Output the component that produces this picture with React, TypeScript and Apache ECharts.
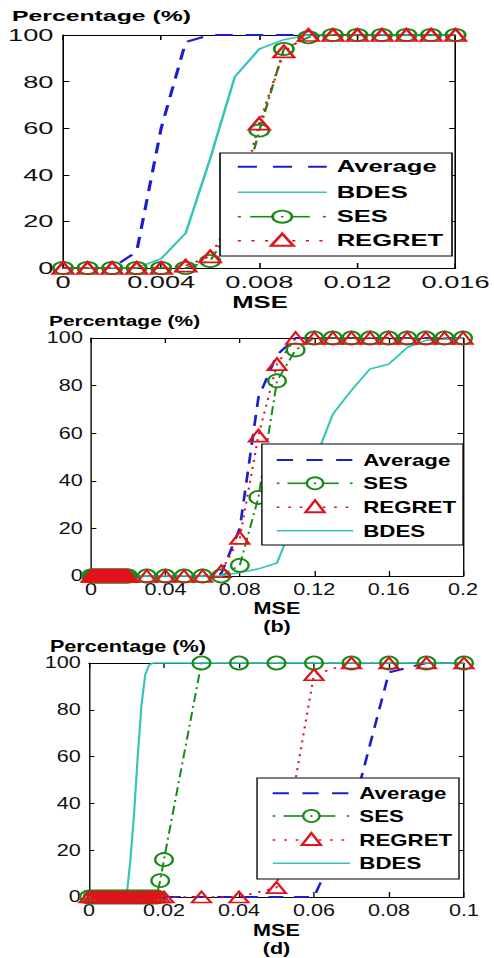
import React, { useEffect, useRef } from "react";
import * as echarts from "echarts";

const FONT = '"Liberation Sans", Arial, Helvetica, sans-serif';

// ---------- data ----------
// Panel (top)
const P1_MSE = [0, 0.001, 0.002, 0.003, 0.004, 0.005, 0.006, 0.007, 0.008, 0.009, 0.01, 0.011, 0.012, 0.013, 0.014, 0.015, 0.016];
const P1_AVERAGE = [0, 0, 0, 7, 60, 97, 100, 100, 100, 100, 100, 100, 100, 100, 100, 100, 100];
const P1_BDES = [0, 0, 0, 0, 4, 15, 47, 82, 94, 98, 100, 100, 100, 100, 100, 100, 100];
const P1_SES = [0, 0, 0, 0, 0, 0, 3, 20, 59, 94, 99, 100, 100, 100, 100, 100, 100];
const P1_REGRET = [0, 0, 0, 0, 0, 1, 5, 23, 62, 93, 100, 100, 100, 100, 100, 100, 100];
const P1_X_TICKS = { min: 0, max: 0.016, interval: 0.004 };

// Panel (b)
const P2_LINE_MSE = [0, 0.01, 0.02, 0.03, 0.04, 0.05, 0.06, 0.07, 0.08, 0.09, 0.1, 0.11, 0.12, 0.13, 0.14, 0.15, 0.16, 0.17, 0.18, 0.19, 0.2];
const P2_AVERAGE = [0, 0, 0, 0, 0, 0, 0, 1, 20, 75, 93, 100, 100, 100, 100, 100, 100, 100, 100, 100, 100];
const P2_BDES = [0, 0, 0, 0, 0, 0, 0, 0, 1.5, 3, 5.5, 25, 48, 68, 78, 87, 89, 96, 99, 99.5, 100];
const P2_MARK_MSE = [
  0, 0.001, 0.002, 0.003, 0.004, 0.005, 0.006, 0.007, 0.008, 0.009, 0.01,
  0.011, 0.012, 0.013, 0.014, 0.015, 0.016, 0.017, 0.018, 0.019, 0.02,
  0.03, 0.04, 0.05, 0.06, 0.07, 0.08, 0.09, 0.1, 0.11, 0.12, 0.13, 0.14, 0.15, 0.16, 0.17, 0.18, 0.19, 0.2,
];
const P2_SES = [
  0, 0, 0, 0, 0, 0, 0, 0, 0, 0, 0, 0, 0, 0, 0, 0, 0, 0, 0, 0, 0,
  0, 0, 0, 0, 0, 4.5, 33, 82, 95, 100, 100, 100, 100, 100, 100, 100, 100, 100,
];
const P2_REGRET = [
  0, 0, 0, 0, 0, 0, 0, 0, 0, 0, 0, 0, 0, 0, 0, 0, 0, 0, 0, 0, 0,
  0, 0, 0, 0, 2, 16, 59, 89, 100, 100, 100, 100, 100, 100, 100, 100, 100, 100,
];
const P2_X_TICKS = { min: 0, max: 0.2, interval: 0.04 };

// Panel (d)
const P3_LINE_MSE = [0, 0.01, 0.02, 0.03, 0.04, 0.05, 0.06, 0.07, 0.08, 0.09, 0.1];
const P3_AVERAGE = [0, 0, 0, 0, 0, 0, 0, 35, 96, 100, 100];
const P3_BDES_MSE = [0, 0.01, 0.011, 0.012, 0.013, 0.014, 0.015, 0.016, 0.017, 0.02, 0.03, 0.04, 0.05, 0.06, 0.07, 0.08, 0.09, 0.1];
const P3_BDES = [0, 0, 15, 35, 60, 82, 95, 99, 100, 100, 100, 100, 100, 100, 100, 100, 100, 100];
const P3_MARK_MSE = [
  0, 0.001, 0.002, 0.003, 0.004, 0.005, 0.006, 0.007, 0.008, 0.009, 0.01,
  0.011, 0.012, 0.013, 0.014, 0.015, 0.016, 0.017, 0.018, 0.019, 0.02,
  0.03, 0.04, 0.05, 0.06, 0.07, 0.08, 0.09, 0.1,
];
const P3_SES = [
  0, 0, 0, 0, 0, 0, 0, 0, 0, 0, 0, 0, 0, 0, 0, 0, 0, 0, 0, 7, 16,
  100, 100, 100, 100, 100, 100, 100, 100,
];
const P3_REGRET = [
  0, 0, 0, 0, 0, 0, 0, 0, 0, 0, 0, 0, 0, 0, 0, 0, 0, 0, 0, 0, 0,
  0, 0, 4, 95, 100, 100, 100, 100,
];
const P3_X_TICKS = { min: 0, max: 0.1, interval: 0.02 };

const Y_TICKS = { min: 0, max: 100, interval: 20 };

// ---------- styles ----------
const COLORS: Record<string, string> = {
  Average: "#1c1cd2",
  BDES: "#34c4ba",
  SES: "#178a17",
  REGRET: "#e2121c",
};

const pairs = (xs: number[], ys: number[]) => xs.map((x, i) => [x, ys[i]]);

function seriesFor(name: string, xs: number[], ys: number[], triSize: number[], circSize: number) {
  const base: any = {
    name,
    type: "line",
    data: pairs(xs, ys),
    clip: false,
    silent: true,
    xAxisIndex: 0,
    yAxisIndex: 0,
  };
  if (name === "Average") {
    return { ...base, symbol: "none", lineStyle: { color: COLORS.Average, width: 2, type: [11, 8] } };
  }
  if (name === "BDES") {
    return { ...base, symbol: "none", lineStyle: { color: COLORS.BDES, width: 1.6, type: "solid" } };
  }
  if (name === "SES") {
    return {
      ...base,
      symbol: "circle",
      symbolSize: circSize,
      showSymbol: true,
      lineStyle: { color: COLORS.SES, width: 1.5, type: [9, 4, 2, 4] },
      itemStyle: { color: "rgba(0,0,0,0)", borderColor: COLORS.SES, borderWidth: 1.8 },
    };
  }
  return {
    ...base,
    symbol: "triangle",
    symbolSize: triSize,
    showSymbol: true,
    lineStyle: { color: COLORS.REGRET, width: 1.6, type: [2, 5] },
    itemStyle: { color: "rgba(0,0,0,0)", borderColor: COLORS.REGRET, borderWidth: 1.8 },
  };
}

function legendElements(lg: any) {
  const els: any[] = [];
  els.push({
    type: "rect",
    z: 100,
    silent: true,
    shape: { x: lg.x, y: lg.y, width: lg.w, height: lg.h },
    style: { fill: "#fff", stroke: "#000", lineWidth: 1 },
  });
  lg.order.forEach((name: string, i: number) => {
    const cy = lg.rows[i];
    const x1 = lg.x1;
    const x2 = lg.x2;
    const L = x2 - x1;
    const cx = (x1 + x2) / 2;
    const c = COLORS[name];
    if (name === "Average") {
      els.push({ type: "line", z: 101, silent: true, shape: { x1, y1: cy, x2, y2: cy }, style: { stroke: c, lineWidth: 2, lineDash: [12, 10] } });
    } else if (name === "BDES") {
      els.push({ type: "line", z: 101, silent: true, shape: { x1, y1: cy, x2, y2: cy }, style: { stroke: c, lineWidth: 1.6 } });
    } else if (name === "SES") {
      const r = 6;
      els.push({ type: "line", z: 101, silent: true, shape: { x1, y1: cy, x2: x1 + 2, y2: cy }, style: { stroke: c, lineWidth: 1.6 } });
      els.push({ type: "line", z: 101, silent: true, shape: { x1: x1 + 0.14 * L, y1: cy, x2: cx - r, y2: cy }, style: { stroke: c, lineWidth: 1.6 } });
      els.push({ type: "line", z: 101, silent: true, shape: { x1: cx + r, y1: cy, x2: x2 - 0.19 * L, y2: cy }, style: { stroke: c, lineWidth: 1.6 } });
      els.push({ type: "line", z: 101, silent: true, shape: { x1: x2 - 2.5, y1: cy, x2: x2 - 0.5, y2: cy }, style: { stroke: c, lineWidth: 1.6 } });
      els.push({ type: "circle", z: 102, silent: true, shape: { cx, cy, r }, style: { fill: "none", stroke: c, lineWidth: 1.8 } });
      els.push({ type: "circle", z: 102, silent: true, shape: { cx, cy, r: 0.9 }, style: { fill: c } });
    } else {
      els.push({ type: "line", z: 101, silent: true, shape: { x1, y1: cy, x2, y2: cy }, style: { stroke: c, lineWidth: 1.6, lineDash: [2, 6.5] } });
      els.push({
        type: "polygon",
        z: 102,
        silent: true,
        shape: { points: [[cx - 7, cy + 5], [cx + 7, cy + 5], [cx, cy - 7]] },
        style: { fill: "#fff", stroke: c, lineWidth: 2 },
      });
    }
    els.push({
      type: "text",
      z: 102,
      silent: true,
      style: {
        text: name,
        x: lg.textX,
        y: cy,
        fill: "#000",
        fontSize: lg.fontSize,
        fontWeight: "bold",
        fontFamily: FONT,
        align: "left",
        verticalAlign: "middle",
        textAlign: "left",
        textVerticalAlign: "middle",
      },
    });
  });
  return els;
}

function textEl(text: string, x: number, y: number, size: number, align: string) {
  return {
    type: "text",
    z: 50,
    silent: true,
    style: {
      text,
      x,
      y,
      fill: "#000",
      fontSize: size,
      fontWeight: "bold",
      fontFamily: FONT,
      align,
      verticalAlign: "middle",
      textAlign: align,
      textVerticalAlign: "middle",
    },
  };
}

function axisCommon(labelSize: number) {
  return {
    type: "value",
    axisLine: { show: true, onZero: false, lineStyle: { color: "#000", width: 1 } },
    splitLine: { show: false },
    axisLabel: { fontSize: labelSize, fontFamily: FONT, color: "#111", margin: 6 },
  };
}

function buildOption(p: any) {
  const xTicks = p.xTicks;
  const xAxis = [
    {
      ...axisCommon(p.labelSize),
      position: "bottom",
      min: xTicks.min,
      max: xTicks.max,
      interval: xTicks.interval,
      axisTick: { show: true, inside: true, length: 5, lineStyle: { color: "#000" } },
    },
    {
      ...axisCommon(p.labelSize),
      position: "top",
      min: xTicks.min,
      max: xTicks.max,
      interval: xTicks.interval,
      axisLabel: { show: false },
      axisTick: { show: true, inside: true, length: 5, lineStyle: { color: "#000" } },
    },
  ];
  const yAxis = [
    {
      ...axisCommon(p.labelSize),
      position: "left",
      min: Y_TICKS.min,
      max: Y_TICKS.max,
      interval: Y_TICKS.interval,
      axisTick: { show: true, inside: true, length: 4, lineStyle: { color: "#000" } },
    },
    {
      ...axisCommon(p.labelSize),
      position: "right",
      min: Y_TICKS.min,
      max: Y_TICKS.max,
      interval: Y_TICKS.interval,
      axisLabel: { show: false },
      axisTick: { show: true, inside: true, length: 4, lineStyle: { color: "#000" } },
    },
  ];
  const graphics: any[] = [
    textEl("Percentage (%)", p.title.x, p.title.y, p.title.size, "left"),
    textEl("MSE", p.xName.x, p.xName.y, p.xName.size, "center"),
  ];
  if (p.caption) graphics.push(textEl(p.caption.text, p.caption.x, p.caption.y, p.caption.size, "center"));
  graphics.push(...legendElements(p.legend));
  return {
    animation: false,
    backgroundColor: "#fff",
    textStyle: { fontFamily: FONT },
    grid: { left: p.grid.left, top: p.grid.top, width: p.grid.width, height: p.grid.height, containLabel: false },
    xAxis,
    yAxis,
    series: p.series,
    graphic: { elements: graphics },
  };
}

const PANELS: any[] = [
  {
    scale: 1.6,
    top: 0,
    height: 312,
    grid: { left: 39.4, top: 35, width: 246.2, height: 233 },
    xTicks: P1_X_TICKS,
    labelSize: 17,
    title: { x: 7.5, y: 15.5, size: 15.5 },
    xName: { x: 162.5, y: 302.5, size: 16 },
    caption: null,
    legend: {
      x: 137.5, y: 153, w: 145, h: 103,
      rows: [166.7, 192.3, 216.7, 240.7],
      x1: 148.6, x2: 204.2, textX: 210.4, fontSize: 16,
      order: ["Average", "BDES", "SES", "REGRET"],
    },
    series: [
      seriesFor("Average", P1_MSE, P1_AVERAGE, [13, 12], 12),
      seriesFor("BDES", P1_MSE, P1_BDES, [13, 12], 12),
      seriesFor("SES", P1_MSE, P1_SES, [13, 12], 12),
      seriesFor("REGRET", P1_MSE, P1_REGRET, [13, 12], 12),
    ],
  },
  {
    scale: 1.35,
    top: 312,
    height: 324,
    grid: { left: 67.4, top: 26, width: 275.6, height: 238 },
    xTicks: P2_X_TICKS,
    labelSize: 16,
    title: { x: 36.3, y: 8.3, size: 15.5 },
    xName: { x: 205.2, y: 297, size: 16 },
    caption: { text: "(b)", x: 205.2, y: 315, size: 16 },
    legend: {
      x: 194, y: 132, w: 149, h: 101,
      rows: [148, 171.3, 195.3, 218.7],
      x1: 205, x2: 261.7, textX: 269.1, fontSize: 16.5,
      order: ["Average", "SES", "REGRET", "BDES"],
    },
    series: [
      seriesFor("Average", P2_LINE_MSE, P2_AVERAGE, [14, 12], 13),
      seriesFor("SES", P2_MARK_MSE, P2_SES, [14, 12], 13),
      seriesFor("REGRET", P2_MARK_MSE, P2_REGRET, [14, 12], 13),
      seriesFor("BDES", P2_LINE_MSE, P2_BDES, [14, 12], 13),
    ],
  },
  {
    scale: 1.35,
    top: 636,
    height: 322,
    grid: { left: 65.9, top: 27, width: 277.8, height: 234 },
    xTicks: P3_X_TICKS,
    labelSize: 16,
    title: { x: 37, y: 10.5, size: 16 },
    xName: { x: 204.8, y: 295, size: 16 },
    caption: { text: "(d)", x: 204.8, y: 313, size: 16 },
    legend: {
      x: 190.4, y: 142, w: 149.6, h: 101,
      rows: [157.3, 180, 204, 227.3],
      x1: 202, x2: 259.3, textX: 266.2, fontSize: 16.5,
      order: ["Average", "SES", "REGRET", "BDES"],
    },
    series: [
      seriesFor("Average", P3_LINE_MSE, P3_AVERAGE, [14, 11], 13),
      seriesFor("SES", P3_MARK_MSE, P3_SES, [14, 11], 13),
      seriesFor("REGRET", P3_MARK_MSE, P3_REGRET, [14, 11], 13),
      seriesFor("BDES", P3_BDES_MSE, P3_BDES, [14, 11], 13),
    ],
  },
];

function Panel({ cfg }: { cfg: any }) {
  const ref = useRef<HTMLDivElement>(null);
  useEffect(() => {
    if (!ref.current) return;
    const chart = echarts.init(ref.current, null, { renderer: "svg" });
    chart.setOption(buildOption(cfg));
    return () => chart.dispose();
  }, [cfg]);
  return (
    <div
      ref={ref}
      style={{
        position: "absolute",
        left: 0,
        top: cfg.top,
        width: 494 / cfg.scale,
        height: cfg.height,
        transform: `scaleX(${cfg.scale})`,
        transformOrigin: "0 0",
      }}
    />
  );
}

export default function App() {
  return (
    <div
      style={{
        position: "absolute",
        left: 0,
        top: 0,
        width: 494,
        height: 958,
        overflow: "hidden",
        background: "#fff",
      }}
    >
      {PANELS.map((cfg, i) => (
        <Panel key={i} cfg={cfg} />
      ))}
    </div>
  );
}
